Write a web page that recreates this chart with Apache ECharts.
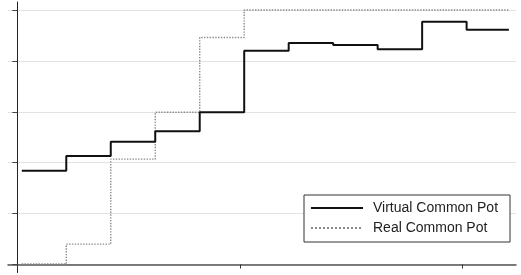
<!DOCTYPE html>
<html>
<head>
<meta charset="utf-8">
<script src="https://cdn.jsdelivr.net/npm/echarts@6/dist/echarts.min.js"></script>
<style>html,body{margin:0;padding:0;background:#fff}#c{width:521px;height:275px}</style>
</head>
<body>
<div id="c"></div>
<script>
// Period start positions (x) and the end of the last period
const periods = [0.1, 1.1, 2.1, 3.1, 4.1, 5.1, 6.1, 7.1, 8.1, 9.1, 10.1];
const lastPeriodEnd = 11.05;
// Series values
const virtualCommonPot = [1.84, 2.13, 2.41, 2.62, 2.99, 4.20, 4.35, 4.31, 4.23, 4.77, 4.61];
const realCommonPot    = [0.01, 0.40, 2.07, 2.99, 4.46, 5.00, 5.00, 5.00, 5.00, 5.00, 5.00];
// Tick positions (no labels in the reference)
const xTicks = [0, 5, 10];
const yTicks = [0, 1, 2, 3, 4, 5];

function stepData(vals) {
  const d = periods.map((x, i) => [x, vals[i]]);
  d.push([lastPeriodEnd, vals[vals.length - 1]]);
  return d;
}

const chart = echarts.init(document.getElementById('c'), null, {renderer: 'canvas'});
chart.setOption({
  animation: false,
  backgroundColor: '#fff',
  textStyle: {fontFamily: 'Liberation Sans, Arial, sans-serif'},
  grid: {left: 8, right: 5, top: 2, bottom: 2.5, containLabel: false},
  xAxis: {
    type: 'value', min: -0.21, max: 11.21,
    axisLine: {show: true, lineStyle: {color: '#555', width: 1.5}},
    axisTick: {show: true, inside: false, length: 4, customValues: xTicks, lineStyle: {color: '#333', width: 1}},
    axisLabel: {show: false, customValues: xTicks},
    splitLine: {show: false}
  },
  yAxis: {
    type: 'value', min: -0.157, max: 5.157,
    axisLine: {show: true, lineStyle: {color: '#222', width: 1}},
    axisTick: {show: true, inside: false, length: 5, customValues: yTicks, lineStyle: {color: '#444', width: 1}},
    axisLabel: {show: false, customValues: yTicks},
    splitLine: {show: true, lineStyle: {color: '#e2e2e2', width: 1}}
  },
  legend: {
    orient: 'vertical', left: 304, top: 195,
    padding: [6, 12, 7, 6],
    itemWidth: 52, itemHeight: 14, itemGap: 6,
    borderColor: '#333', borderWidth: 1, backgroundColor: '#fff',
    itemStyle: {opacity: 0},
    textStyle: {fontSize: 14, color: '#222', fontFamily: 'Liberation Sans, Arial, sans-serif', padding: [0, 0, 0, 5]},
    data: ['Virtual Common Pot', 'Real Common Pot']
  },
  series: [
    {
      name: 'Virtual Common Pot', type: 'line', step: 'end', symbol: 'none',
      data: stepData(virtualCommonPot), z: 3,
      lineStyle: {color: '#111', width: 2}, itemStyle: {color: '#111'}
    },
    {
      name: 'Real Common Pot', type: 'line', step: 'end', symbol: 'none',
      data: stepData(realCommonPot), z: 2,
      lineStyle: {color: '#8a8a8a', width: 1.4, type: 'dotted'}, itemStyle: {color: '#8a8a8a'}
    }
  ]
});
</script>
</body>
</html>
